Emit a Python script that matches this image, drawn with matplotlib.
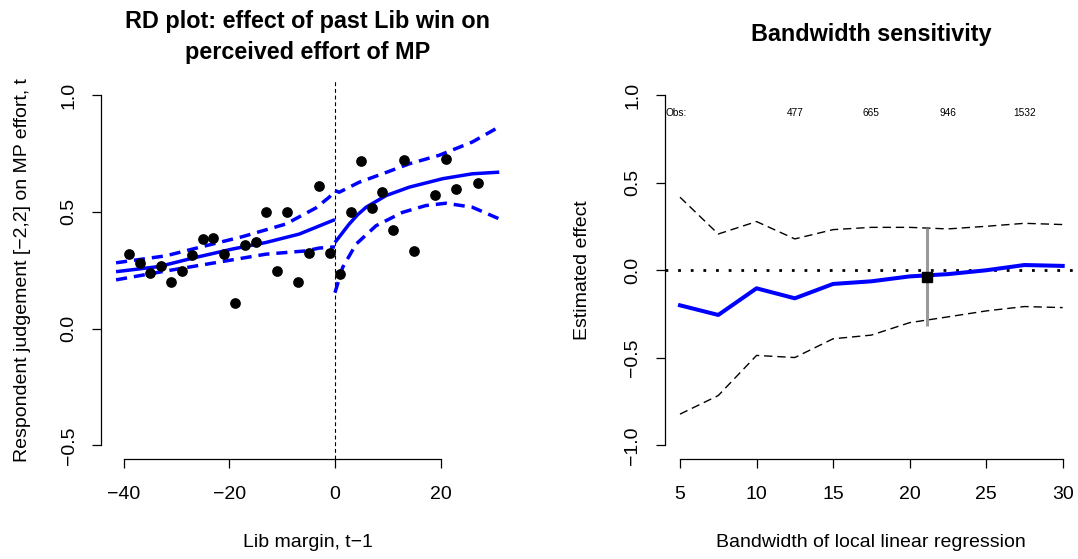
import matplotlib
matplotlib.use("Agg")
import matplotlib.pyplot as plt

plt.rcParams['font.family'] = ['Liberation Sans', 'DejaVu Sans']

# --- left panel: binned means and local linear fits ---
bin_x = [-39, -37, -35, -33, -31, -29, -27, -25, -23, -21, -19, -17, -15, -13, -11,
         -9, -7, -5, -3, -1, 1, 3, 5, 7, 9, 11, 13, 15, 19, 21, 23, 27]
bin_y = [0.321, 0.281, 0.238, 0.270, 0.198, 0.245, 0.317, 0.384, 0.387, 0.318, 0.109,
         0.357, 0.371, 0.499, 0.245, 0.499, 0.198, 0.323, 0.609, 0.326, 0.234, 0.499,
         0.718, 0.516, 0.586, 0.421, 0.721, 0.331, 0.571, 0.726, 0.599, 0.625]

fit_left_x = [-41.45, -33.3, -26.95, -19.4, -13.06, -6.76, -3.6, 0]
fit_left_y = [0.244, 0.266, 0.302, 0.341, 0.369, 0.405, 0.434, 0.467]
hi_left_x = [-41.45, -32.0, -25.7, -17.5, -9.3, -3.6, -1.08, 0]
hi_left_y = [0.282, 0.312, 0.348, 0.394, 0.448, 0.517, 0.563, 0.591]
lo_left_x = [-41.45, -32.0, -22.5, -13.06, -5.5, -3.0, 0]
lo_left_y = [0.209, 0.247, 0.283, 0.319, 0.333, 0.345, 0.350]

fit_right_x = [0, 2.7, 4.3, 5.9, 9.7, 14.1, 20.4, 26.0, 31.1]
fit_right_y = [0.369, 0.448, 0.488, 0.520, 0.570, 0.606, 0.642, 0.663, 0.670]
hi_right_x = [0, 0.8, 4.6, 9.0, 14.1, 19.7, 26.0, 31.1]
hi_right_y = [0.591, 0.584, 0.627, 0.663, 0.706, 0.742, 0.799, 0.864]
lo_right_x = [0, 1.45, 4.0, 7.8, 12.8, 17.2, 21.0, 26.0, 31.1]
lo_right_y = [0.154, 0.262, 0.362, 0.441, 0.498, 0.527, 0.537, 0.520, 0.470]

left_xticks = [-40, -20, 0, 20]
left_yticks = [-0.5, 0.0, 0.5, 1.0]
left_yticklabels = ['\u22120.5', '0.0', '0.5', '1.0']

# --- right panel: bandwidth sensitivity ---
bandwidth = [5, 7.5, 10, 12.5, 15, 17.5, 20, 22.5, 25, 27.5, 30]
estimate = [-0.20, -0.255, -0.103, -0.16, -0.078, -0.063, -0.035, -0.022, 0.0, 0.03, 0.025]
ci_upper = [0.417, 0.207, 0.278, 0.179, 0.232, 0.245, 0.245, 0.236, 0.251, 0.268, 0.261]
ci_lower = [-0.821, -0.715, -0.486, -0.498, -0.391, -0.370, -0.299, -0.266, -0.232, -0.207, -0.213]

opt_bw = 21.13
opt_est = -0.037
opt_lo = -0.316
opt_hi = 0.244

obs_x = [12.5, 17.5, 22.5, 27.5]
obs_n = ['477', '665', '946', '1532']

right_xticks = [5, 10, 15, 20, 25, 30]
right_yticks = [-1.0, -0.5, 0.0, 0.5, 1.0]
right_yticklabels = ['\u22121.0', '\u22120.5', '0.0', '0.5', '1.0']

BLUE = '#0000ff'


def r_style(ax, xticks, yticks, yticklabels):
    # base-R look: no box, axis lines only between first and last tick
    for side in ['top', 'right']:
        ax.spines[side].set_visible(False)
    for side in ['left', 'bottom']:
        ax.spines[side].set_linewidth(0.9)
    ax.spines['bottom'].set_bounds(xticks[0], xticks[-1])
    ax.spines['left'].set_bounds(yticks[0], yticks[-1])
    ax.set_xticks(xticks)
    ax.set_xticklabels([str(t) if t >= 0 else '\u2212' + str(-t) for t in xticks])
    ax.set_yticks(yticks)
    ax.set_yticklabels(yticklabels, rotation=90, va='center')
    ax.tick_params(direction='out', length=6.8, width=0.9, labelsize=14)
    ax.tick_params(axis='x', pad=12.5)
    ax.tick_params(axis='y', pad=10)


fig = plt.figure(figsize=(10.78, 5.59), dpi=100)
ax1 = fig.add_axes([0.0937, 0.178, 0.3831, 0.677])
ax2 = fig.add_axes([0.6166, 0.178, 0.3834, 0.677])

# left
ax1.set_xlim(-44.3, 33.9)
ax1.set_ylim(-0.56, 1.06)
ax1.axvline(0, color='black', lw=0.8, dashes=(3.5, 2.5))
lw = 2.5
ax1.plot(fit_left_x, fit_left_y, color=BLUE, lw=lw, solid_capstyle='butt')
ax1.plot(fit_right_x, fit_right_y, color=BLUE, lw=lw, solid_capstyle='butt')
for xs, ys in [(hi_left_x, hi_left_y), (lo_left_x, lo_left_y),
               (hi_right_x, hi_right_y), (lo_right_x, lo_right_y)]:
    ax1.plot(xs, ys, color=BLUE, lw=lw, dashes=(3.2, 2.0), dash_capstyle='butt')
ax1.plot(bin_x, bin_y, 'o', color='black', ms=6.7, zorder=5)
r_style(ax1, left_xticks, left_yticks, left_yticklabels)
ax1.set_xlabel('Lib margin, t\u22121', fontsize=14, va='center')
ax1.xaxis.set_label_coords(0.5, -0.2206)
ax1.set_ylabel('Respondent judgement [\u22122,2] on MP effort, t', fontsize=14, va='center')
ax1.yaxis.set_label_coords(-0.19, 0.5)
ax1.text(0.5, 1.116, 'RD plot: effect of past Lib win on\nperceived effort of MP',
         transform=ax1.transAxes, ha='center', va='center', fontsize=16.8,
         fontweight='bold', linespacing=1.45)

# right
ax2.set_xlim(4, 31)
ax2.set_ylim(-1.08, 1.08)
ax2.axhline(0, color='black', lw=2.0, dashes=(1, 3.55), dash_capstyle='butt')
ax2.plot(bandwidth, ci_upper, color='black', lw=1.0, dashes=(6, 3.5))
ax2.plot(bandwidth, ci_lower, color='black', lw=1.0, dashes=(6, 3.5))
ax2.plot(bandwidth, estimate, color=BLUE, lw=2.9, solid_joinstyle='round')
ax2.plot([opt_bw, opt_bw], [opt_lo, opt_hi], color='#999999', lw=2.2, solid_capstyle='butt')
ax2.plot([opt_bw], [opt_est], 's', color='black', ms=7, zorder=5)
ax2.text(4.75, 0.9, 'Obs:', fontsize=7.3, ha='center', va='center')
for x, n in zip(obs_x, obs_n):
    ax2.text(x, 0.9, n, fontsize=7.3, ha='center', va='center')
r_style(ax2, right_xticks, right_yticks, right_yticklabels)
ax2.set_xlabel('Bandwidth of local linear regression', fontsize=14, va='center')
ax2.xaxis.set_label_coords(0.5, -0.2206)
ax2.set_ylabel('Estimated effect', fontsize=14, va='center')
ax2.yaxis.set_label_coords(-0.1977, 0.5)
ax2.text(0.5, 1.124, 'Bandwidth sensitivity', transform=ax2.transAxes,
         ha='center', va='center', fontsize=16.8, fontweight='bold')

fig.savefig('out.png', dpi=100)
